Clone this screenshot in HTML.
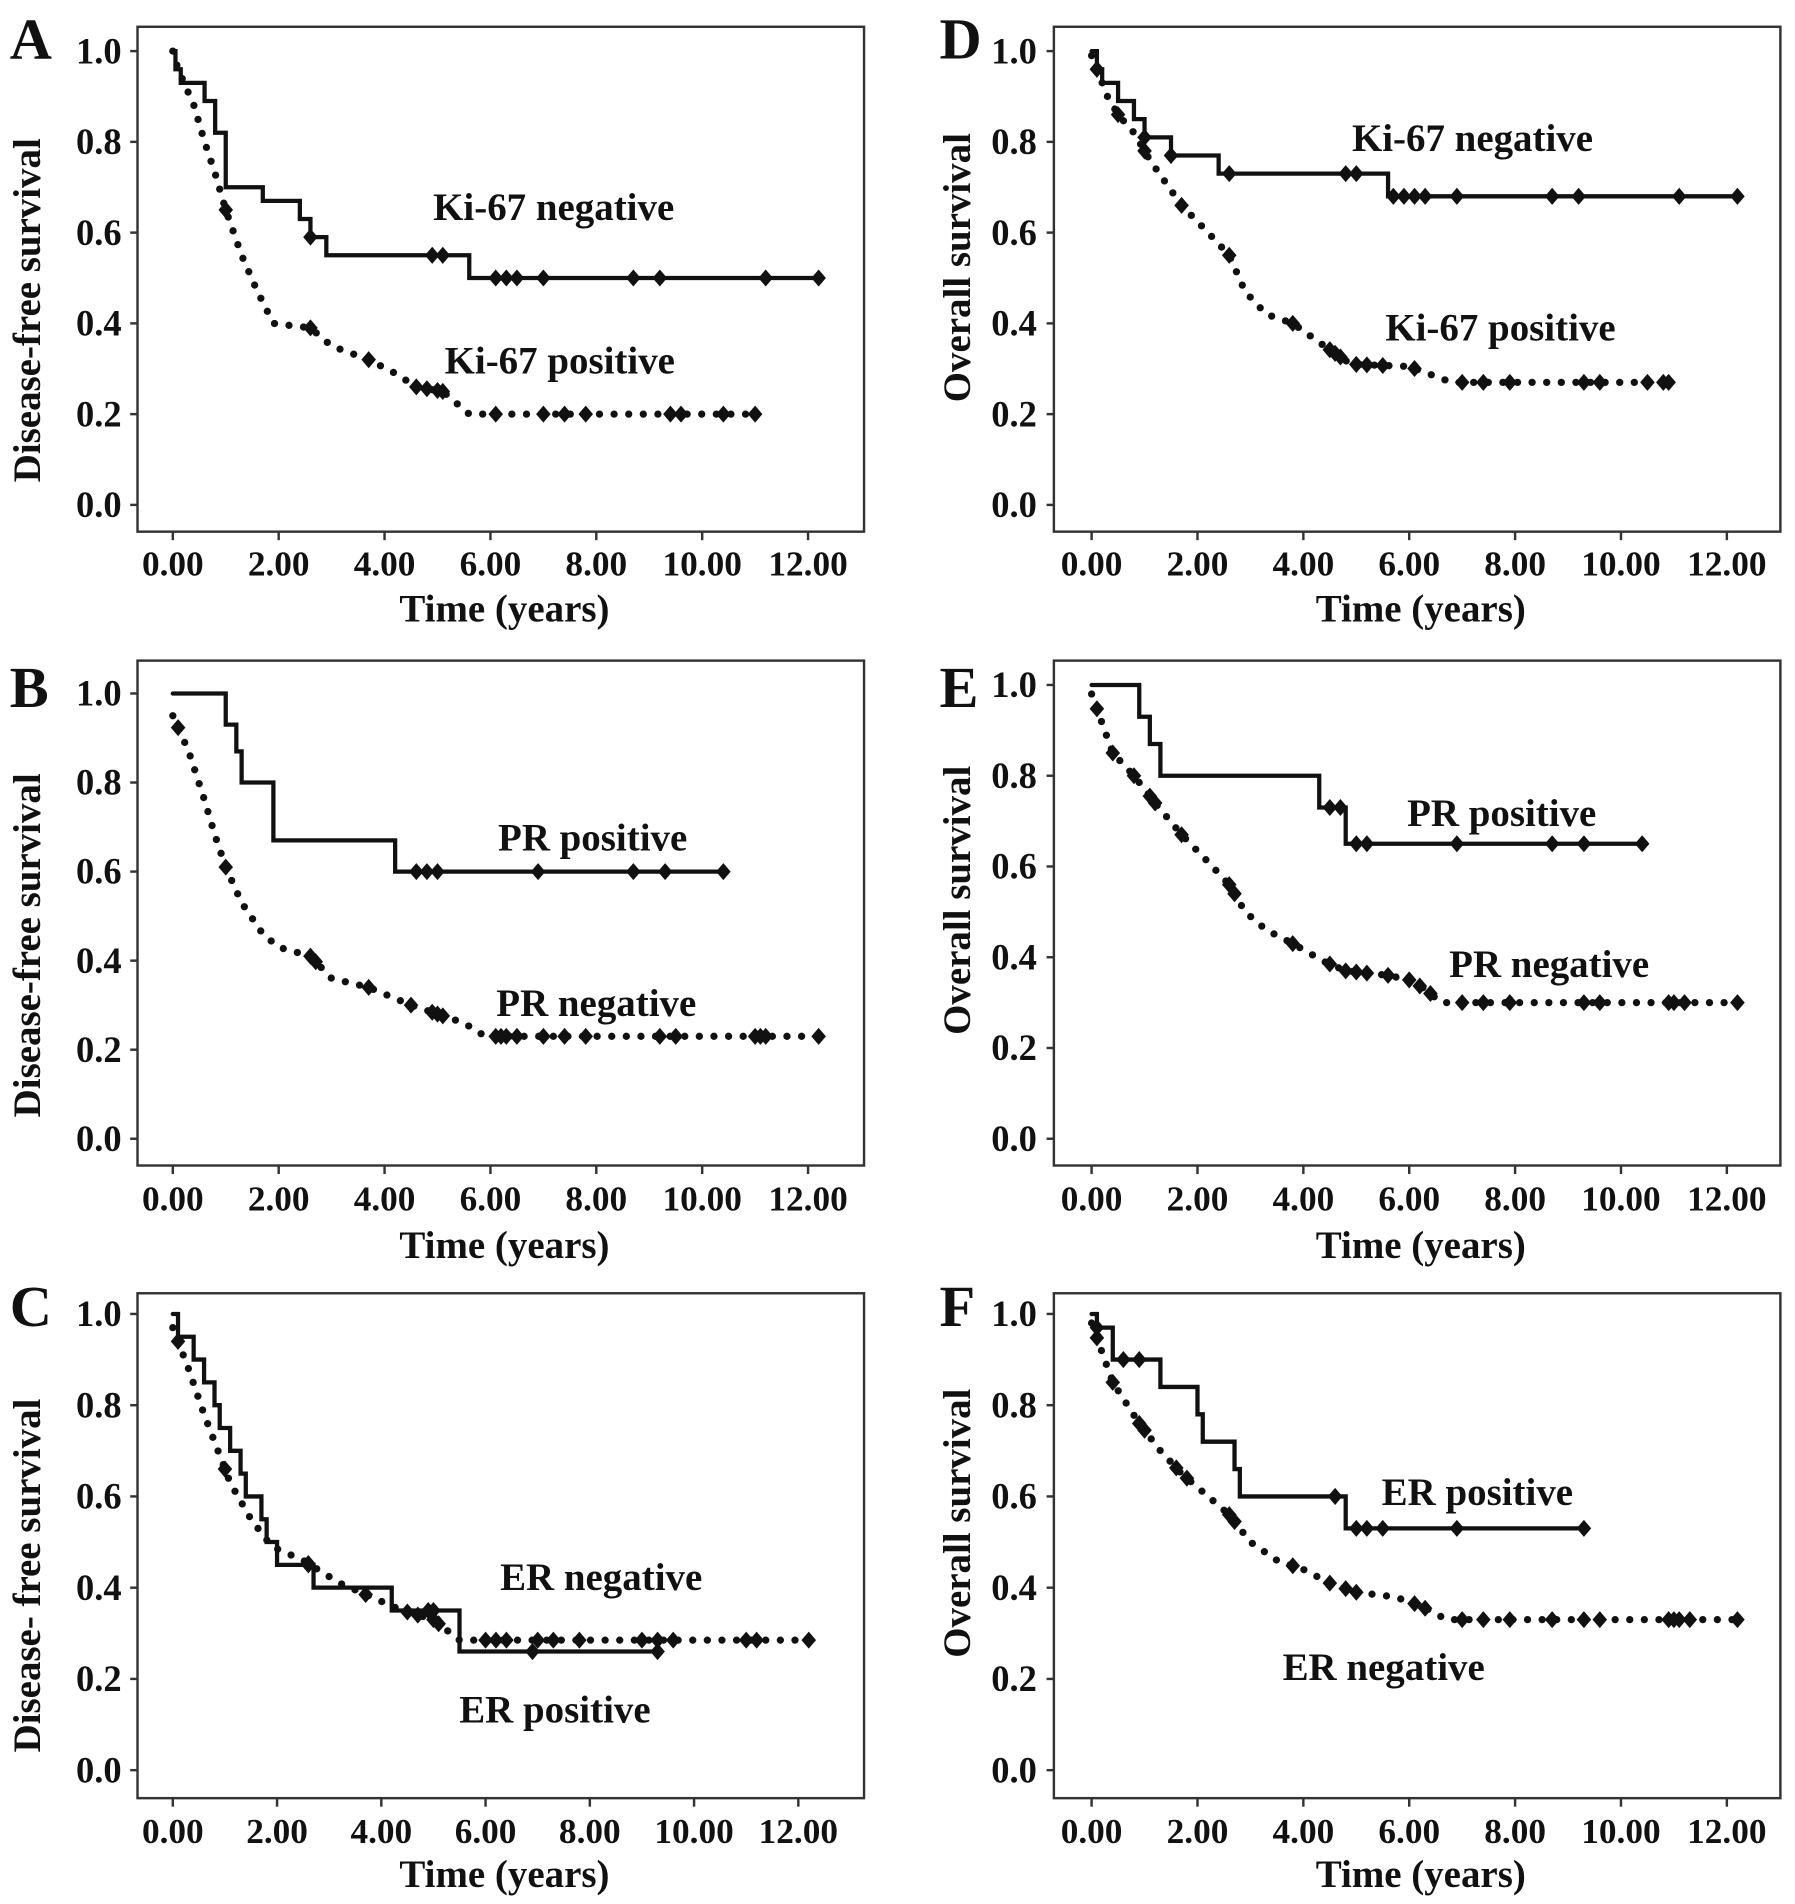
<!DOCTYPE html>
<html><head><meta charset="utf-8"><style>
html,body{margin:0;padding:0;background:#fff}
svg{display:block}
text{font-family:"Liberation Serif",serif;font-weight:bold;fill:#111}
</style></head><body>
<svg id="chart" width="1795" height="1904" viewBox="0 0 1475 1565" preserveAspectRatio="none" xmlns="http://www.w3.org/2000/svg"></svg>
<script>
const xTicks = [0,2,4,6,8,10,12];
const xTickLabels = ["0.00","2.00","4.00","6.00","8.00","10.00","12.00"];
const yTicks = [0,0.2,0.4,0.6,0.8,1.0];
const yTickLabels = ["0.0","0.2","0.4","0.6","0.8","1.0"];

const panelLetters = ["A","B","C","D","E","F"];
const panelYTitles = ["Disease-free survival","Disease-free survival","Disease- free survival","Overall  survival","Overall  survival","Overall  survival"];

// A
const aSolidT=[0,0.05,0.15,0.6,0.8,1.0,1.7,2.4,2.6,2.9,5.6,12.2];
const aSolidS=[1,0.96,0.93,0.89,0.82,0.70,0.67,0.63,0.59,0.55,0.50,0.50];
const aSolidC=[2.6,4.9,5.1,6.1,6.3,6.5,7.0,8.7,9.2,11.2,12.2];
const aDotT=[0,0.1,0.4,0.6,0.8,1.0,1.3,1.6,1.9,2.6,3.0,3.7,4.2,4.6,5.1,5.6,11.0];
const aDotS=[1,0.96,0.88,0.80,0.73,0.65,0.55,0.47,0.40,0.39,0.35,0.32,0.29,0.26,0.25,0.20,0.20];
const aDotC=[1.0,2.6,3.7,4.6,4.8,5.0,5.1,6.1,7.0,7.4,7.8,9.4,9.6,10.4,11.0];
// B
const bSolidT=[0,1.0,1.2,1.3,1.9,4.2,10.4];
const bSolidS=[1,0.93,0.87,0.80,0.67,0.60,0.60];
const bSolidC=[4.6,4.8,5.0,6.9,8.7,9.3,10.4];
const bDotT=[0,0.3,0.6,0.8,1.0,1.3,1.7,2.0,2.6,3.0,3.7,4.5,5.0,5.5,5.9,12.2];
const bDotS=[0.95,0.87,0.76,0.68,0.61,0.53,0.46,0.43,0.41,0.36,0.34,0.30,0.28,0.26,0.23,0.23];
const bDotC=[0.1,1.0,2.6,2.7,3.7,4.5,4.9,5.0,5.1,6.1,6.2,6.3,6.5,7.0,7.4,7.8,9.2,9.5,11.0,11.1,11.2,12.2];
// C
const cSolidT=[0,0.1,0.4,0.6,0.8,0.9,1.1,1.3,1.4,1.7,1.8,2.0,2.7,4.2,5.5,9.3];
const cSolidS=[1,0.95,0.90,0.85,0.80,0.75,0.70,0.65,0.60,0.55,0.50,0.45,0.40,0.35,0.26,0.26];
const cSolidC=[2.6,4.9,5.0,6.9,9.3];
const cDotT=[0,0.3,0.6,0.9,1.1,1.5,1.9,2.5,3.2,3.8,4.4,5.0,5.5,12.2];
const cDotS=[0.97,0.88,0.78,0.69,0.63,0.55,0.49,0.46,0.41,0.38,0.35,0.33,0.285,0.285];
const cDotC=[0.1,1.0,2.6,3.7,4.5,4.7,5.0,5.1,6.0,6.2,6.4,7.0,7.3,7.8,9.0,9.3,9.6,11.0,11.2,12.2];
// D
const dSolidT=[0,0.1,0.2,0.5,0.8,1.0,1.5,2.4,5.6,12.2];
const dSolidS=[1,0.96,0.93,0.89,0.85,0.81,0.77,0.73,0.68,0.68];
const dSolidC=[0.1,1.0,1.5,2.6,4.8,5.0,5.7,5.9,6.1,6.3,6.9,8.7,9.2,11.1,12.2];
const dDotT=[0,0.3,0.5,0.8,1.1,1.4,1.7,2.2,2.6,2.9,3.3,3.8,4.4,4.9,6.0,6.8,11.0];
const dDotS=[0.99,0.90,0.86,0.82,0.76,0.71,0.66,0.60,0.55,0.47,0.42,0.40,0.35,0.31,0.305,0.27,0.27];
const dDotC=[0.1,0.5,1.0,1.7,2.6,3.8,4.5,4.6,4.7,5.0,5.2,5.5,6.1,7.0,7.4,7.9,9.3,9.6,10.5,10.8,10.9];
// E
const eSolidT=[0,0.9,1.1,1.3,4.3,4.8,10.4];
const eSolidS=[1,0.93,0.87,0.80,0.73,0.65,0.65];
const eSolidC=[4.5,4.7,5.0,5.2,6.9,8.7,9.3,10.4];
const eDotT=[0,0.4,0.8,1.2,1.7,2.2,2.6,2.9,3.3,3.8,4.4,4.8,5.6,6.0,6.3,6.6,12.2];
const eDotS=[0.98,0.85,0.80,0.74,0.67,0.61,0.56,0.50,0.46,0.43,0.39,0.37,0.36,0.35,0.33,0.30,0.30];
const eDotC=[0.1,0.4,0.8,1.1,1.2,1.7,2.6,2.7,3.8,4.5,4.8,5.0,5.2,5.6,6.0,6.2,6.4,7.0,7.4,7.9,9.3,9.6,10.9,11.0,11.2,12.2];
// F
const fSolidT=[0,0.1,0.4,1.3,2.0,2.1,2.7,2.8,4.8,9.3];
const fSolidS=[1,0.97,0.90,0.84,0.78,0.72,0.66,0.60,0.53,0.53];
const fSolidC=[0.1,0.6,0.9,4.6,5.0,5.2,5.5,6.9,9.3];
const fDotT=[0,0.4,0.9,1.3,1.7,2.2,2.6,3.0,3.5,4.0,4.5,5.0,5.7,6.0,6.4,6.7,12.2];
const fDotS=[0.98,0.85,0.76,0.70,0.65,0.60,0.56,0.50,0.46,0.44,0.41,0.39,0.38,0.37,0.35,0.33,0.33];
const fDotC=[0.1,0.4,0.9,1.0,1.6,1.8,2.6,2.7,3.8,4.5,4.8,5.0,6.1,6.3,7.0,7.4,7.9,8.7,9.3,9.6,10.9,11.0,11.1,11.3,12.2];

const seriesSets=[
 [aSolidT,aSolidS,aSolidC,aDotT,aDotS,aDotC],
 [bSolidT,bSolidS,bSolidC,bDotT,bDotS,bDotC],
 [cSolidT,cSolidS,cSolidC,cDotT,cDotS,cDotC],
 [dSolidT,dSolidS,dSolidC,dDotT,dDotS,dDotC],
 [eSolidT,eSolidS,eSolidC,eDotT,eDotS,eDotC],
 [fSolidT,fSolidS,fSolidC,fDotT,fDotS,fDotC]];
const seriesLabels=[
 ["Ki-67 negative","Ki-67 positive"],["PR positive","PR negative"],["ER positive","ER negative"],
 ["Ki-67 negative","Ki-67 positive"],["PR positive","PR negative"],["ER positive","ER negative"]];

// layout (not data)
const layouts=[
 {bx:113,bw:597,by:22,bh:415,x0:142,x12:664,y1:42,y0:415,lbl:[[455,170],[460,296]],tickY:463,titleY:500,yTitleX:22,yTitleC:255,tickRight:100,letterX:8,letterY:48},
 {bx:113,bw:597,by:543,bh:415,x0:142,x12:664,y1:570,y0:936,lbl:[[487,688],[490,824]],tickY:985,titleY:1023,yTitleX:22,yTitleC:777,tickRight:100,letterX:8,letterY:581},
 {bx:113,bw:597,by:1063,bh:415,x0:142,x12:656,y1:1080,y0:1455,lbl:[[456,1405],[494,1296]],tickY:1505,titleY:1540,yTitleX:22,yTitleC:1295,tickRight:100,letterX:8,letterY:1090},
 {bx:866,bw:597,by:22,bh:415,x0:897,x12:1419,y1:42,y0:415,lbl:[[1210,113],[1233,269]],tickY:463,titleY:500,yTitleX:786,yTitleC:220,tickRight:852,letterX:772,letterY:48},
 {bx:866,bw:597,by:543,bh:415,x0:897,x12:1419,y1:563,y0:936,lbl:[[1234,668],[1273,792]],tickY:985,titleY:1023,yTitleX:786,yTitleC:740,tickRight:852,letterX:772,letterY:581},
 {bx:866,bw:597,by:1063,bh:415,x0:897,x12:1419,y1:1080,y0:1455,lbl:[[1214,1226],[1137,1370]],tickY:1505,titleY:1540,yTitleX:786,yTitleC:1252,tickRight:852,letterX:772,letterY:1090}];

const NS="http://www.w3.org/2000/svg";
const svg=document.getElementById('chart');
function mk(tag,attrs,parent){const e=document.createElementNS(NS,tag);for(const k in attrs)e.setAttribute(k,attrs[k]);(parent||svg).appendChild(e);return e;}

layouts.forEach((L,i)=>{
  const g=mk('g',{});
  
  
  const xs=t=>L.x0+(L.x12-L.x0)*t/12;
  const ys=v=>L.y0+(L.y1-L.y0)*v;
  const box=mk('rect',{x:L.bx,y:L.by,width:L.bw,height:L.bh,fill:'none',stroke:'#333','stroke-width':2},g);
  
  
  const letter=mk('text',{x:L.letterX,y:L.letterY,'font-size':48},g);
  letter.textContent=panelLetters[i];
  
  
  yTicks.forEach((v,k)=>{
    mk('line',{x1:L.bx-6,x2:L.bx,y1:ys(v),y2:ys(v),stroke:'#333','stroke-width':2},g);
    const t=mk('text',{x:L.tickRight,y:ys(v)+10,'font-size':30,'text-anchor':'end'},g);
    t.textContent=yTickLabels[k];
    
    
  });
  xTicks.forEach((v,k)=>{
    mk('line',{x1:xs(v),x2:xs(v),y1:L.by+L.bh,y2:L.by+L.bh+7,stroke:'#333','stroke-width':2},g);
    const t=mk('text',{x:xs(v),y:L.tickY+10,'font-size':29,'text-anchor':'middle'},g);
    t.textContent=xTickLabels[k];
    
    
  });
  const xt=mk('text',{x:L.bx+L.bw/2+3,y:L.titleY+11,'font-size':32,'text-anchor':'middle'},g);
  xt.textContent='Time (years)';
  
  
  const cy=L.yTitleC;
  const yt=mk('text',{x:L.yTitleX+11,y:cy,'font-size':32,'text-anchor':'middle',transform:`rotate(-90 ${L.yTitleX+11} ${cy})`},g);
  yt.textContent=panelYTitles[i];
  
  

  const S=seriesSets[i];
  [[S[0],S[1],S[2],false],[S[3],S[4],S[5],true]].forEach(([T,V,C,dotted],si)=>{
    let d=`M${xs(T[0])},${ys(V[0])}`;
    for(let k=1;k<T.length;k++){ if(dotted) d+=` L${xs(T[k])},${ys(V[k])}`; else d+=` H${xs(T[k])} V${ys(V[k])}`; }
    const p=mk('path',{d:d,fill:'none',stroke:'#111','stroke-width':dotted?6:3.5,'stroke-linecap':'round','stroke-linejoin':'miter','stroke-dasharray':dotted?'0 12':'none'},g);
    
    
    C.forEach(c=>{
      let v=V[0];
      for(let k=0;k<T.length;k++){ if(T[k]<=c) v=V[k]; }
      if(dotted){ for(let k=1;k<T.length;k++){ if(c>T[k-1]&&c<T[k]){ v=V[k-1]+(V[k]-V[k-1])*(c-T[k-1])/(T[k]-T[k-1]); } } }
      const x=xs(c),y=ys(v);
      const m=mk('path',{d:`M${x},${y-7} L${x+6},${y} L${x},${y+7} L${x-6},${y} Z`,fill:'#111'},g);
      
      
    });
    const lt=mk('text',{x:L.lbl[si][0],y:L.lbl[si][1]+11,'font-size':32,'text-anchor':'middle'},g);
    lt.textContent=seriesLabels[i][si];
    
    
  });
});
</script>
</body></html>
